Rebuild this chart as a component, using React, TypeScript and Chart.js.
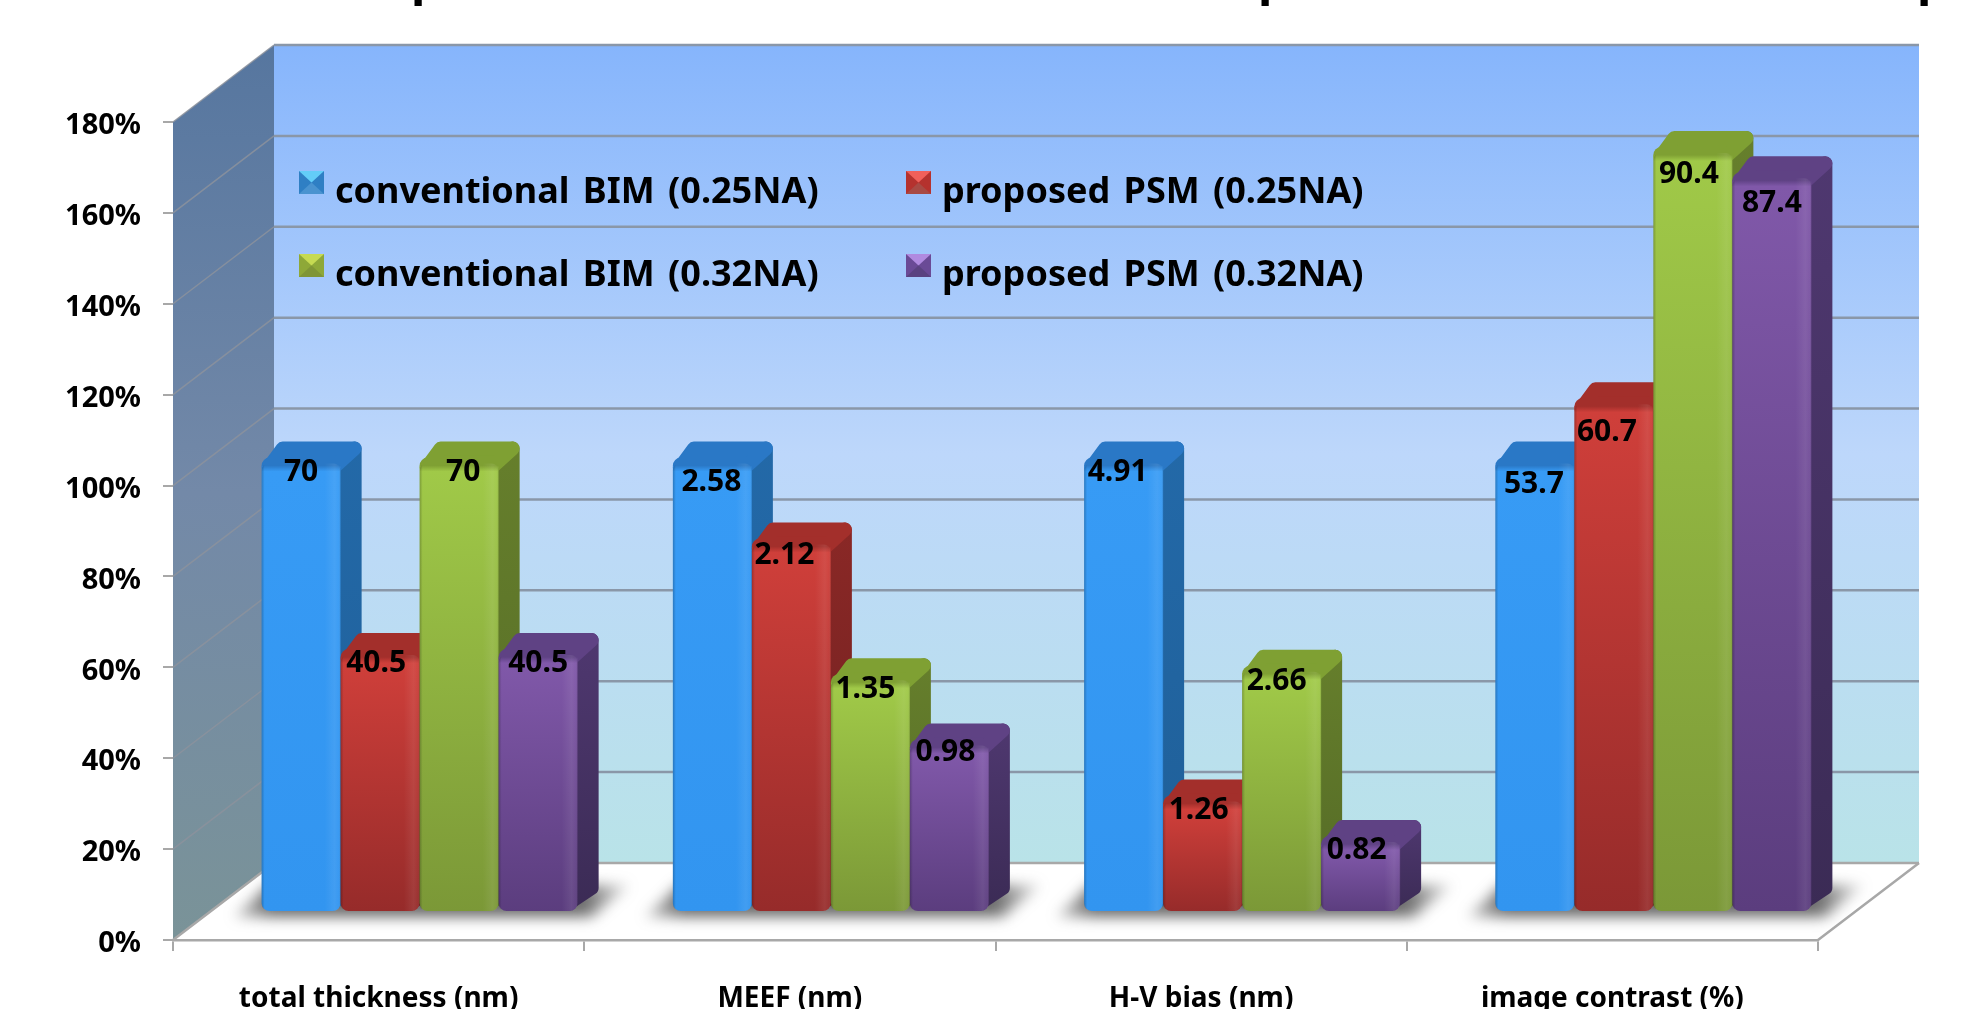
import React, { useEffect, useRef } from "react";
import { Chart, registerables } from "chart.js";

Chart.register(...registerables);

// Measured values per metric, in the metric's own unit.
const categories = ["total thickness (nm)", "MEEF (nm)", "H-V bias (nm)", "image contrast (%)"];
const bim025 = [70, 2.58, 4.91, 53.7];
const psm025 = [40.5, 2.12, 1.26, 60.7];
const bim032 = [70, 1.35, 2.66, 90.4];
const psm032 = [40.5, 0.98, 0.82, 87.4];
const labelTexts = [
  ["70", "2.58", "4.91", "53.7"],
  ["40.5", "2.12", "1.26", "60.7"],
  ["70", "1.35", "2.66", "90.4"],
  ["40.5", "0.98", "0.82", "87.4"],
];
const seriesNames = [
  "conventional BIM (0.25NA)",
  "proposed PSM (0.25NA)",
  "conventional BIM (0.32NA)",
  "proposed PSM (0.32NA)",
];
const yTicks = { min: 0, max: 180, step: 20 };

// Every metric is plotted relative to the conventional 0.25NA mask.
const toPercent = (values: number[]) => values.map((v, i) => (v / bim025[i]) * 100);
const seriesValues = [bim025, psm025, bim032, psm032].map(toPercent);

// Face colours of each series.
const palette = [
  { top: "#379BF5", bottom: "#3295F0", cap: "#2A78C6", sideTop: "#2369A8", sideBottom: "#1F5F98", light: "#63CDF8", mid: "#2F7FC4", low: "#4A93D0" },
  { top: "#CF3F3A", bottom: "#962B2A", cap: "#A32F2B", sideTop: "#8A2826", sideBottom: "#6E2020", light: "#F0605A", mid: "#B5322E", low: "#A84A44" },
  { top: "#A0C948", bottom: "#7B9837", cap: "#7FA033", sideTop: "#667F2C", sideBottom: "#546A26", light: "#C6DA52", mid: "#8EA838", low: "#7F9536" },
  { top: "#8058A9", bottom: "#5B3D7E", cap: "#5F4284", sideTop: "#4F3870", sideBottom: "#3B2B55", light: "#B08AE0", mid: "#6A4A96", low: "#5A4280" },
];

// Small hand placements of the value labels relative to the top of each bar.
const labelDx = [
  [0, -1, -6, -1],
  [-4, -7, -4, -7],
  [4, -5, -5, -4],
  [0, -4, -4, 0],
];
const labelDy = [
  [15, 25, 15, 27],
  [14, 17, 15, 34],
  [15, 15, 16, 27],
  [14, 13, 14, 31],
];

// Projection of the 3D box: walls recede by WALL_*, bars stand BAR_* into the floor.
const WALL_DX = 101;
const WALL_DY = -77;
const BAR_DX = 41;
const BAR_DY = -28;
const DEPTH_X = 21;
const DEPTH_Y = 16;
const CAP_BAND = 8;
const FONT = '"Noto Sans", sans-serif';

function poly(ctx: CanvasRenderingContext2D, pts: number[][]) {
  ctx.beginPath();
  pts.forEach(([x, y], i) => (i ? ctx.lineTo(x, y) : ctx.moveTo(x, y)));
  ctx.closePath();
}

function barBox(el: any) {
  const { x, y, base, width } = el.getProps(["x", "y", "base", "width"], true);
  return { x0: x - width / 2, x1: x + width / 2, top: y, base };
}

// Side and cap faces of one series, painted beneath its front faces.
function drawDepthFaces(ctx: CanvasRenderingContext2D, meta: any, index: number) {
  const col = palette[index];
  meta.data.forEach((el: any) => {
    const { x0, x1, top, base } = barBox(el);
    const r = 7;
    ctx.lineJoin = "round";
    ctx.lineWidth = r * 2;

    const sg = ctx.createLinearGradient(0, top - DEPTH_Y, 0, base);
    sg.addColorStop(0, col.sideTop);
    sg.addColorStop(1, col.sideBottom);
    ctx.fillStyle = sg;
    ctx.strokeStyle = sg;
    poly(ctx, [
      [x1 - 10, top + CAP_BAND + 4],
      [x1 + DEPTH_X - r, top - DEPTH_Y + r],
      [x1 + DEPTH_X - r, base - DEPTH_Y - r],
      [x1 - 10, base - r],
    ]);
    ctx.fill();
    ctx.stroke();

    ctx.fillStyle = col.cap;
    ctx.strokeStyle = col.cap;
    poly(ctx, [
      [x0 + r, top + CAP_BAND + 2],
      [x0 + DEPTH_X, top - DEPTH_Y + r],
      [x1 + DEPTH_X - r, top - DEPTH_Y + r],
      [x1 - r, top + CAP_BAND + 2],
    ]);
    ctx.fill();
    ctx.stroke();
  });
}

// Bevel shading along the vertical edges of the front face.
function drawBevels(ctx: CanvasRenderingContext2D, meta: any) {
  meta.data.forEach((el: any) => {
    const { x0, x1, top, base } = barBox(el);
    const w = x1 - x0;
    const g = ctx.createLinearGradient(x0, 0, x1, 0);
    g.addColorStop(0, "rgba(0,0,0,0.22)");
    g.addColorStop(3 / w, "rgba(0,0,0,0)");
    g.addColorStop(1 - 16 / w, "rgba(255,255,255,0)");
    g.addColorStop(1 - 6 / w, "rgba(255,255,255,0.08)");
    g.addColorStop(1 - 2 / w, "rgba(255,255,255,0.04)");
    g.addColorStop(1, "rgba(0,0,0,0.15)");
    ctx.fillStyle = g;
    ctx.beginPath();
    ctx.roundRect(x0, top + 6, w, base - top - 6, 7);
    ctx.fill();
  });
}

function drawValueLabels(chart: any) {
  const { ctx } = chart;
  ctx.fillStyle = "#000";
  ctx.font = `700 30px ${FONT}`;
  ctx.textAlign = "center";
  ctx.textBaseline = "middle";
  labelTexts.forEach((row, s) => {
    chart.getDatasetMeta(s).data.forEach((el: any, i: number) => {
      const { x0, x1, top } = barBox(el);
      ctx.fillText(row[i], (x0 + x1) / 2 + BAR_DX + labelDx[s][i], top + BAR_DY + labelDy[s][i]);
    });
  });
}

// Two-by-two legend on the back wall.
function drawLegend(ctx: any) {
  const columns = [299, 906];
  const rows = [171, 254];
  ctx.font = `700 36px ${FONT}`;
  ctx.wordSpacing = "4px";
  ctx.textAlign = "left";
  ctx.textBaseline = "alphabetic";
  seriesNames.forEach((name, s) => {
    const x = columns[s % 2];
    const y = rows[s > 1 ? 1 : 0];
    const sw = 25;
    const sh = 23;
    const cx = x + sw / 2;
    const cy = y + sh / 2;
    const c = palette[s];
    ctx.fillStyle = c.mid;
    ctx.fillRect(x, y, sw, sh);
    ctx.fillStyle = c.light;
    poly(ctx, [[x, y], [x + sw, y], [cx, cy]]);
    ctx.fill();
    ctx.fillStyle = c.low;
    poly(ctx, [[x, y + sh], [x + sw, y + sh], [cx, cy]]);
    ctx.fill();
    ctx.fillStyle = "#000";
    ctx.fillText(name, x + 36, y + 32);
  });
  ctx.wordSpacing = "0px";
}

const boxPlugin = {
  id: "box3d",
  beforeDraw(chart: any) {
    const { ctx, chartArea: a, scales } = chart;
    const backL = a.left + WALL_DX;
    const backR = a.right + WALL_DX;
    const backT = a.top + WALL_DY;
    const backB = a.bottom + WALL_DY;
    ctx.save();

    // Back wall
    const wall = ctx.createLinearGradient(0, backT, 0, backB);
    wall.addColorStop(0, "#86B5FC");
    wall.addColorStop(0.5, "#BDD7FB");
    wall.addColorStop(1, "#B9E3E8");
    ctx.fillStyle = wall;
    ctx.fillRect(backL, backT, backR - backL, backB - backT);

    // Side wall
    const side = ctx.createLinearGradient(0, backT, 0, a.bottom);
    side.addColorStop(0, "#56769F");
    side.addColorStop(0.5, "#7389A8");
    side.addColorStop(1, "#7A9398");
    ctx.fillStyle = side;
    poly(ctx, [[a.left, a.top], [backL, backT], [backL, backB], [a.left, a.bottom]]);
    ctx.fill();

    // Gridlines wrap from the side wall on to the back wall
    for (let v = yTicks.min; v <= yTicks.max; v += yTicks.step) {
      const py = scales.y.getPixelForValue(v);
      if (v > 0) {
        ctx.strokeStyle = "rgba(140,146,156,0.85)";
        ctx.lineWidth = 1.5;
        ctx.beginPath();
        ctx.moveTo(a.left, py);
        ctx.lineTo(backL, py + WALL_DY);
        ctx.stroke();
      }
      ctx.strokeStyle = v === 0 ? "#A8A8A8" : "#8A97A8";
      ctx.lineWidth = 2.5;
      ctx.beginPath();
      ctx.moveTo(backL, py + WALL_DY);
      ctx.lineTo(backR, py + WALL_DY);
      ctx.stroke();
    }

    // Floor edges
    ctx.strokeStyle = "#A8A8A8";
    ctx.lineWidth = 2.5;
    ctx.beginPath();
    ctx.moveTo(a.left, a.bottom);
    ctx.lineTo(backL, backB);
    ctx.moveTo(a.right, a.bottom);
    ctx.lineTo(backR, backB);
    ctx.stroke();

    // Soft shadow beneath each group of bars, fading towards both ends
    const first = chart.getDatasetMeta(0).data;
    const last = chart.getDatasetMeta(3).data;
    ctx.filter = "blur(7px)";
    first.forEach((el: any, i: number) => {
      const f = barBox(el);
      const l = barBox(last[i]);
      const b = f.base + BAR_DY;
      const x0 = f.x0 + BAR_DX;
      const x1 = l.x1 + BAR_DX;
      const g = ctx.createLinearGradient(x0 - 30, 0, x1 + 53, 0);
      g.addColorStop(0, "rgba(90,90,90,0.25)");
      g.addColorStop(0.1, "rgba(70,70,70,0.8)");
      g.addColorStop(0.88, "rgba(70,70,70,0.8)");
      g.addColorStop(1, "rgba(90,90,90,0.15)");
      ctx.fillStyle = g;
      poly(ctx, [[x0 - 28, b + 6], [x0 + 6, b - 26], [x1 + 52, b - 26], [x1 + 14, b + 6]]);
      ctx.fill();
    });
    ctx.filter = "none";
    ctx.restore();
  },
  // Series are painted in ascending order so each one covers the side of its left neighbour.
  beforeDatasetsDraw(chart: any) {
    const { ctx } = chart;
    ctx.save();
    ctx.translate(BAR_DX, BAR_DY);
    seriesValues.forEach((_, s) => {
      const meta = chart.getDatasetMeta(s);
      drawDepthFaces(ctx, meta, s);
      meta.controller.draw();
      drawBevels(ctx, meta);
    });
    ctx.restore();

    ctx.save();
    drawValueLabels(chart);
    drawLegend(ctx);

    // Descenders of the heading line, which runs off the top of the page
    ctx.fillStyle = "#000";
    ctx.font = `700 48px ${FONT}`;
    [411, 1258, 1917].forEach((x) => ctx.fillText("p", x, -6));
    ctx.restore();
    return false;
  },
};

export default function App() {
  const ref = useRef<HTMLCanvasElement>(null);
  useEffect(() => {
    const chart = new Chart(ref.current!, {
      type: "bar",
      plugins: [boxPlugin],
      data: {
        labels: categories,
        datasets: seriesValues.map((values, s) => ({
          label: seriesNames[s],
          data: values,
          clip: false,
          categoryPercentage: 0.7684,
          barPercentage: 1,
          borderWidth: 0,
          borderSkipped: false,
          borderRadius: 8,
          backgroundColor: (c: any) => {
            const col = palette[s];
            const area = c.chart.chartArea;
            if (!area || c.parsed?.y == null) return col.top;
            const y = c.chart.scales.y;
            const top = y.getPixelForValue(c.parsed.y);
            const base = y.getPixelForValue(0);
            const h = base - top;
            const g = c.chart.ctx.createLinearGradient(0, top, 0, base);
            g.addColorStop(0, col.cap);
            g.addColorStop(Math.min(0.3, CAP_BAND / h), col.cap);
            g.addColorStop(Math.min(0.4, (CAP_BAND + 6) / h), col.top);
            g.addColorStop(1, col.bottom);
            return g;
          },
        })),
      },
      options: {
        responsive: false,
        animation: false,
        devicePixelRatio: 1,
        layout: { padding: { top: 122, right: 148, bottom: 0, left: 0 } },
        plugins: { legend: { display: false }, title: { display: false }, tooltip: { enabled: false } },
        scales: {
          x: {
            afterFit: (s: any) => { s.height = 69; },
            grid: { offset: true, drawOnChartArea: false, drawTicks: true, tickLength: 11, color: "#A8A8A8", lineWidth: 2 },
            border: { color: "#A8A8A8", width: 2.5 },
            ticks: { color: "#000", font: { family: FONT, weight: "700", size: 28 }, padding: 31, maxRotation: 0 },
          },
          y: {
            min: yTicks.min,
            max: yTicks.max,
            afterFit: (s: any) => { s.width = 173; },
            grid: { drawOnChartArea: false, drawTicks: true, tickLength: 10, color: "#A8A8A8", lineWidth: 2 },
            border: { display: false },
            ticks: {
              stepSize: yTicks.step,
              color: "#000",
              font: { family: FONT, weight: "700", size: 29 },
              padding: 22,
              labelOffset: 4,
              callback: (v: any) => `${v}%`,
            },
          },
        },
      },
    } as any);
    return () => chart.destroy();
  }, []);

  return (
    <div style={{ position: "fixed", left: 0, top: 0, width: 1966, height: 1009, overflow: "hidden", background: "#fff" }}>
      <canvas ref={ref} width={1966} height={1009} style={{ display: "block" }} />
    </div>
  );
}
